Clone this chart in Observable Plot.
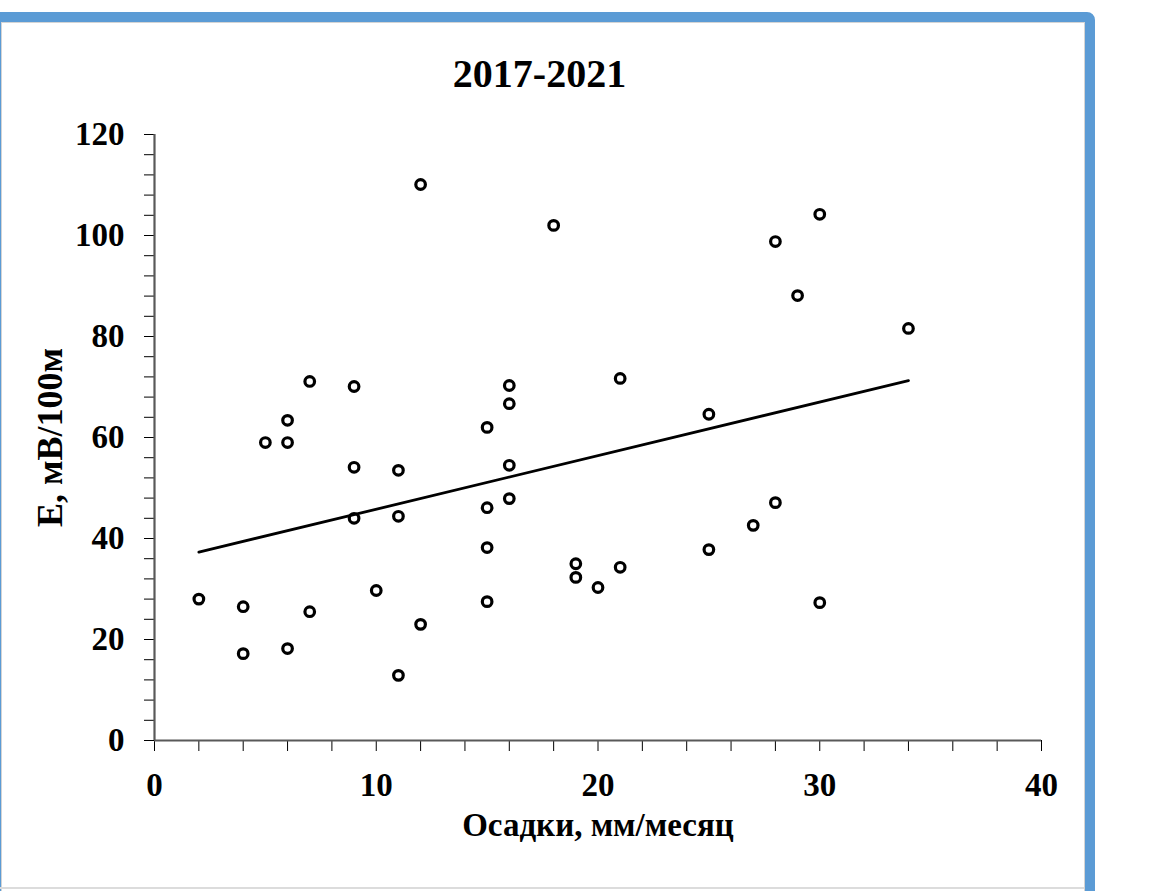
<!DOCTYPE html>
<html>
<head>
<meta charset="utf-8">
<script src="https://cdn.jsdelivr.net/npm/d3@7"></script>
<script src="https://cdn.jsdelivr.net/npm/@observablehq/plot@0.6"></script>
<style>
  html, body { margin: 0; padding: 0; background: #fff; width: 1152px; height: 891px; overflow: hidden; }
  #frame { position: absolute; left: -9px; top: 12px; width: 1104px; height: 930px; box-sizing: border-box;
           border: 10px solid #5B9BD5; border-radius: 0 8px 0 0; box-shadow: inset 0 0 0 1px #d4d4d4; }
  #bottomline { position: absolute; left: 0; top: 887px; width: 1084px; height: 2px; background: #dcdcdc; }
  #title { position: absolute; left: 0; top: 54px; width: 1079px; text-align: center;
           font-family: "Liberation Serif", "Times New Roman", serif; font-weight: bold; font-size: 40px; line-height: 40px; color: #000; }
  #chart { position: absolute; left: 0; top: 0; }
  #chart svg, #chart svg text { font-family: "Liberation Serif", "Times New Roman", serif !important; font-weight: bold !important; }
  #chart svg text { fill: #000; }
  #chart svg g[aria-label="x-axis"] path, #chart svg g[aria-label="y-axis"] path,
  #chart svg g[aria-label="x-axis"] line, #chart svg g[aria-label="y-axis"] line { stroke: #595959; stroke-width: 2px; }
</style>
</head>
<body>
<div id="frame"></div>
<div id="bottomline"></div>
<div id="title">2017-2021</div>
<div id="chart"></div>
<script>
// Precipitation, mm/month (x) and E, mV/100m (y)
const precipitation = [2, 4, 4, 5, 6, 6, 6, 7, 7, 9, 9, 9, 10, 11, 11, 11, 12, 12, 15, 15, 15, 15, 16, 16, 16, 16, 18, 19, 19, 20, 21, 21, 25, 25, 27, 28, 28, 29, 30, 30, 34];
const potential = [28, 26.5, 17.2, 59, 63.4, 59, 18.2, 71.1, 25.5, 70.1, 54.1, 44, 29.7, 53.5, 44.4, 12.9, 110.1, 23, 62, 46.1, 38.2, 27.5, 70.3, 66.7, 54.5, 47.9, 102, 35, 32.3, 30.3, 71.7, 34.3, 64.6, 37.8, 42.6, 98.8, 47.1, 88.1, 104.2, 27.3, 81.6];
const xMajorTicks = [0, 10, 20, 30, 40];
const xMinorTicks = [0, 2, 4, 6, 8, 10, 12, 14, 16, 18, 20, 22, 24, 26, 28, 30, 32, 34, 36, 38, 40];
const yMajorTicks = [0, 20, 40, 60, 80, 100, 120];
const yMinorTicks = [0, 4, 8, 12, 16, 20, 24, 28, 32, 36, 40, 44, 48, 52, 56, 60, 64, 68, 72, 76, 80, 84, 88, 92, 96, 100, 104, 108, 112, 116, 120];
const xLabel = "Осадки, мм/месяц";
const yLabel = "E, мВ/100м";

const data = precipitation.map((x, i) => ({x, y: potential[i]}));
const axisColor = "#595959";

const plot = Plot.plot({
  width: 1152,
  height: 891,
  marginLeft: 154,
  marginRight: 111,
  marginTop: 134,
  marginBottom: 151,
  x: {domain: [0, 40], ticks: xMinorTicks, tickFormat: d => xMajorTicks.includes(d) ? String(d) : "",
      tickSize: 11, tickPadding: 21, label: null, line: false},
  y: {domain: [0, 120], ticks: yMinorTicks, tickFormat: d => yMajorTicks.includes(d) ? String(d) : "",
      tickSize: 10, tickPadding: 20, label: null, line: false},
  style: {fontFamily: "Liberation Serif, Times New Roman, serif", fontWeight: "bold", fontSize: "33px", color: "#000", background: "transparent", overflow: "visible"},
  marks: [
    Plot.ruleX([0], {stroke: axisColor, strokeWidth: 2.2}),
    Plot.ruleY([0], {stroke: axisColor, strokeWidth: 2.2}),
    Plot.linearRegressionY(data, {x: "x", y: "y", ci: 0, stroke: "#000", strokeWidth: 2.8}),
    Plot.dot(data, {x: "x", y: "y", r: 4.8, stroke: "#000", strokeWidth: 3.2, fill: "none"}),
    Plot.text([xLabel], {frameAnchor: "bottom", dy: 95, fontSize: 33, fill: "#000", textAnchor: "middle"}),
    Plot.text([yLabel], {frameAnchor: "left", dx: -104, rotate: -90, fontSize: 36, fill: "#000", textAnchor: "middle"})
  ]
});
document.getElementById("chart").appendChild(plot);
</script>
</body>
</html>
